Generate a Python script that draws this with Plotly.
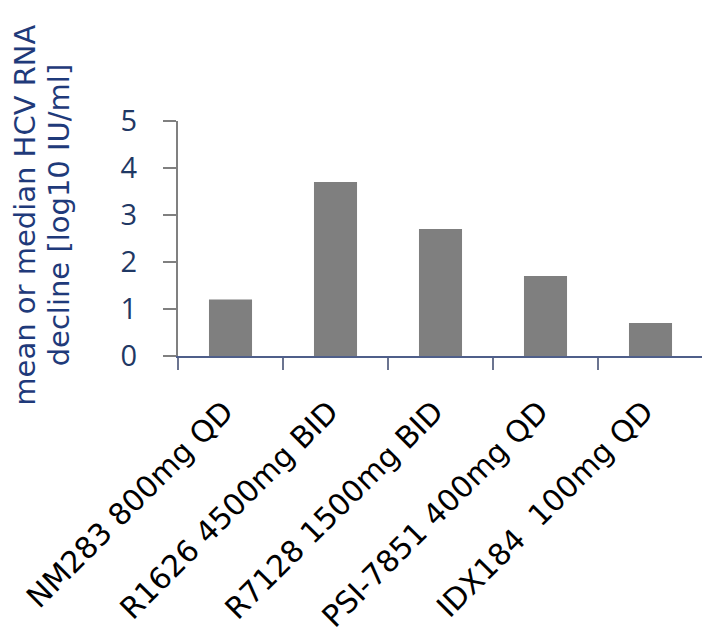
import plotly.graph_objects as go

categories = ["NM283 800mg QD", "R1626 4500mg BID", "R7128 1500mg BID",
              "PSI-7851 400mg QD", "IDX184\u00a0 100mg QD"]
decline = [1.2, 3.7, 2.7, 1.7, 0.7]
y_ticks = [0, 1, 2, 3, 4, 5]
y_title_lines = ["mean or median HCV RNA", "decline [log10 IU/ml]"]

fig = go.Figure()
fig.add_trace(go.Bar(x=categories, y=decline, marker=dict(color="#7f7f7f", line=dict(width=0)),
                     showlegend=False))

title_font = dict(family="DejaVu Sans", size=29, color="#1f3a7a")
annotations = [
    dict(text=y_title_lines[0], xref="paper", yref="paper", x=-0.292, y=0.6,
         xanchor="center", yanchor="middle", textangle=-90, showarrow=False, font=title_font),
    dict(text=y_title_lines[1], xref="paper", yref="paper", x=-0.226, y=0.6,
         xanchor="center", yanchor="middle", textangle=-90, showarrow=False, font=title_font),
]

fig.update_layout(
    width=702, height=627,
    margin=dict(l=170, r=7, t=113, b=279, autoexpand=False),
    paper_bgcolor="white", plot_bgcolor="white",
    bargap=0.59,
    xaxis=dict(type="category", categoryorder="array", categoryarray=categories,
               range=[-0.5, 4.5], tickson="boundaries", ticks="outside", ticklen=12,
               tickwidth=2, tickcolor="#6b7490", showline=True, linecolor="#4f5f8a",
               linewidth=2, showgrid=False, tickangle=-45, automargin=False,
               tickfont=dict(family="DejaVu Sans", size=30, color="black"),
               ticklabelstandoff=24, ticklabelshift=-6),
    yaxis=dict(range=[0, 5], tickvals=y_ticks, ticks="outside", ticklen=13, tickwidth=2,
               tickcolor="#808080", showline=True, linecolor="#808080", linewidth=2,
               showgrid=False, zeroline=False, automargin=False,
               tickfont=dict(family="Open Sans", size=29, color="#1f3864"),
               ticklabelstandoff=20),
    annotations=annotations,
)

fig.write_html("out.html")
